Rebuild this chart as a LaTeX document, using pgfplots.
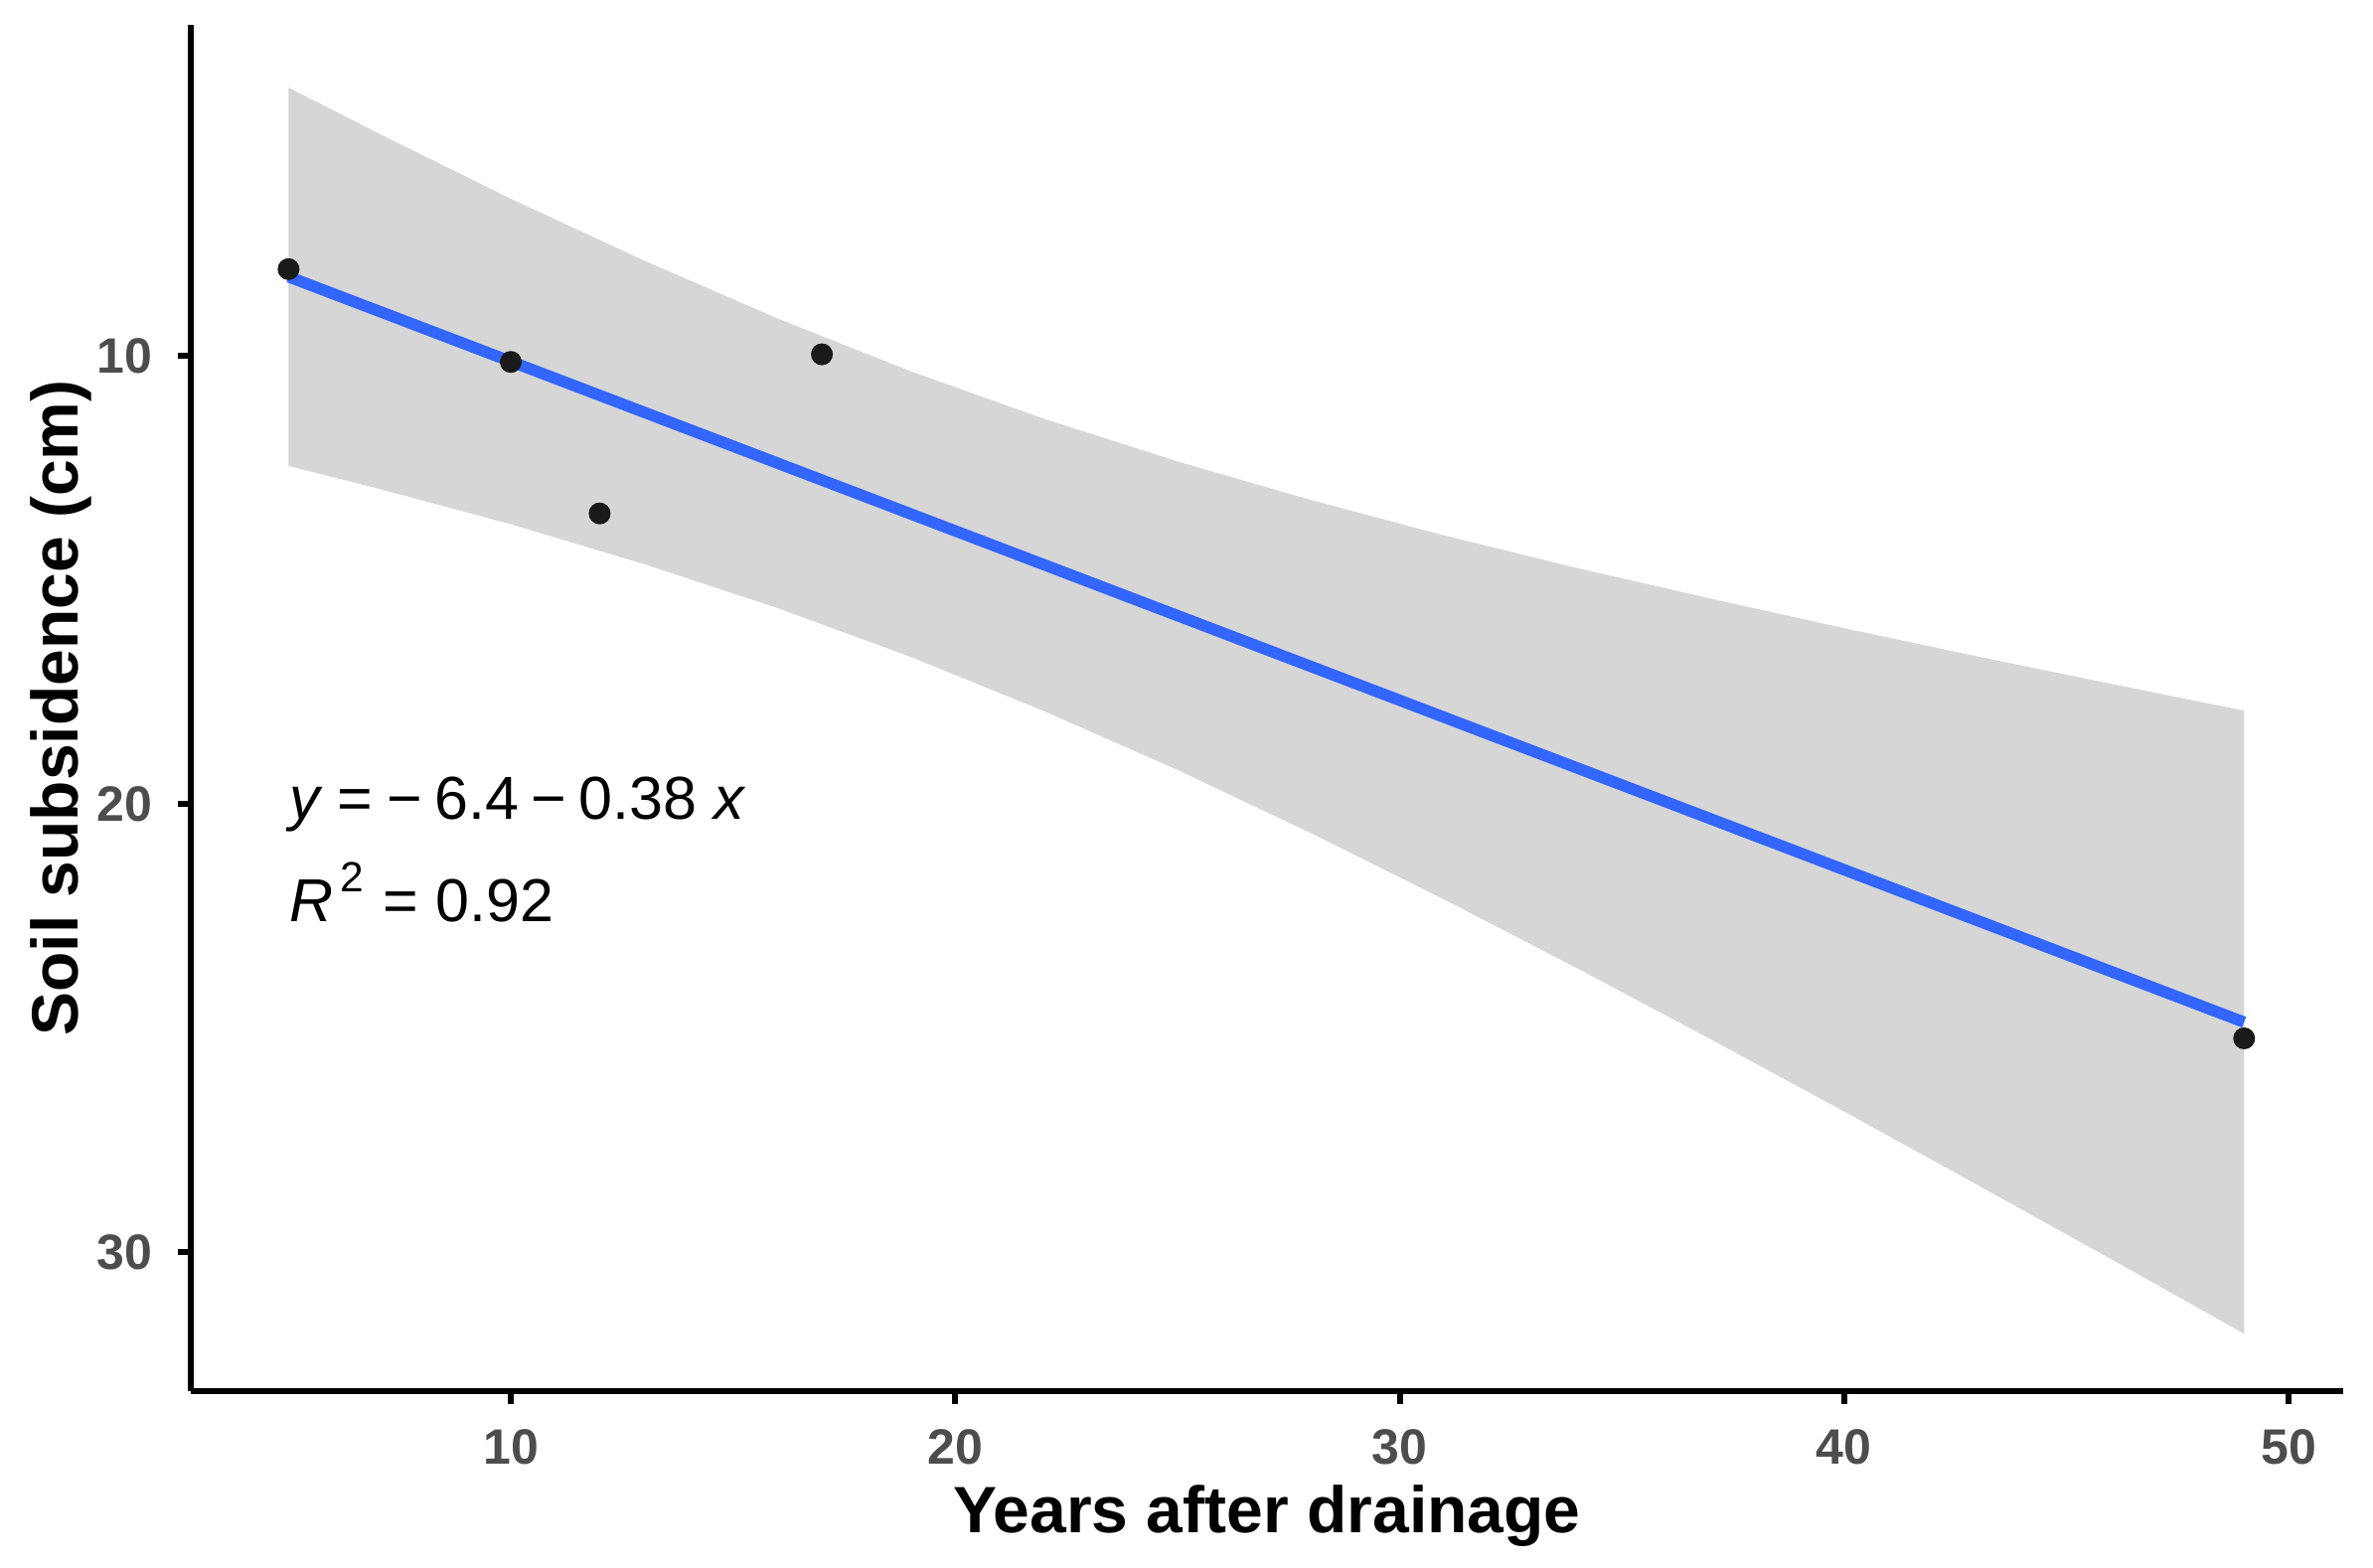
\documentclass[border=0pt]{standalone}
\usepackage{fontspec}
\setmainfont{Liberation Sans}
\usepackage{pgfplots}
\pgfplotsset{compat=1.18}
\definecolor{ribbon}{HTML}{D6D6D6}
\definecolor{fitblue}{HTML}{3366FF}
\definecolor{ticktext}{HTML}{4D4D4D}
\definecolor{pointcol}{HTML}{1A1A1A}

\begin{document}
\begin{tikzpicture}
\begin{axis}[
  name=ax,
  scale only axis,
  width=433.2pt, height=275pt,
  xmin=2.8, xmax=51.23,
  ymin=-33.1, ymax=-2.62,
  axis lines=left,
  axis line style={-, black, line width=1.2pt},
  xtick={10,20,30,40,50},
  ytick={-30,-20,-10},
  yticklabels={30,20,10},
  tick align=outside,
  major tick length=2.6pt,
  every tick/.style={black, line width=1.2pt},
  /pgf/number format/assume math mode=true,
  ticklabel style={font=\bfseries\fontsize{10}{12}\selectfont, text=ticktext},
  xticklabel style={yshift=-1.6pt},
  yticklabel style={xshift=-1.6pt},
  xlabel={Years after drainage},
  ylabel={Soil subsidence (cm)},
  label style={font=\bfseries\fontsize{13.2}{15}\selectfont, text=black},
  xlabel style={at={(axis description cs:0.5,-0.1035)}, anchor=base},
  ylabel style={at={(axis description cs:-0.0605,0.5)}, anchor=center, rotate=0},
  clip=false,
]
% 95% confidence band (visual top edge forward, bottom edge backward)
\addplot[fill=ribbon, draw=none] coordinates {
  (5,-4.02) (7,-5.03) (10,-6.50) (13,-7.88) (16,-9.17) (19,-10.35) (22,-11.41)
  (25,-12.36) (28,-13.22) (31,-14.01) (34,-14.74) (37,-15.42) (40,-16.08)
  (43,-16.71) (46,-17.32) (49,-17.92)
  (49,-31.82) (46,-30.15) (43,-28.50) (40,-26.86) (37,-25.25) (34,-23.67)
  (31,-22.13) (28,-20.65) (25,-19.24) (22,-17.93) (19,-16.72) (16,-15.63)
  (13,-14.65) (10,-13.76) (7,-12.96) (5,-12.46)
} -- cycle;
% fitted line
\addplot[fitblue, line width=2.3pt] coordinates {(5,-8.24) (49,-24.87)};
% observations
\addplot[only marks, mark=*, mark size=2pt, mark options={fill=pointcol, draw=pointcol}] coordinates {
  (5,-8.07) (10,-10.14) (12,-13.52) (17,-9.97) (49,-25.23)
};
\node[anchor=base west, inner sep=0pt, font=\fontsize{12.2}{14}\selectfont] at (axis cs:5,-20.35)
  {\textit{y}\hspace{0.24em}=\hspace{0.24em}\char"2212\hspace{0.2em}6.4\hspace{0.2em}\char"2212\hspace{0.2em}0.38\hspace{0.28em}\textit{x}};
\node[anchor=base west, inner sep=0pt, font=\fontsize{12.2}{14}\selectfont] at (axis cs:5,-22.63)
  {\textit{R}\kern0.12em\raisebox{0.5em}{\fontsize{8.5}{10}\selectfont 2}\hspace{0.32em}=\hspace{0.28em}0.92};
\end{axis}
\pgfresetboundingbox
\path[use as bounding box] ([xshift=-38.4pt,yshift=-35.4pt]ax.south west) rectangle ([xshift=6pt,yshift=5pt]ax.north east);
\end{tikzpicture}
\end{document}
